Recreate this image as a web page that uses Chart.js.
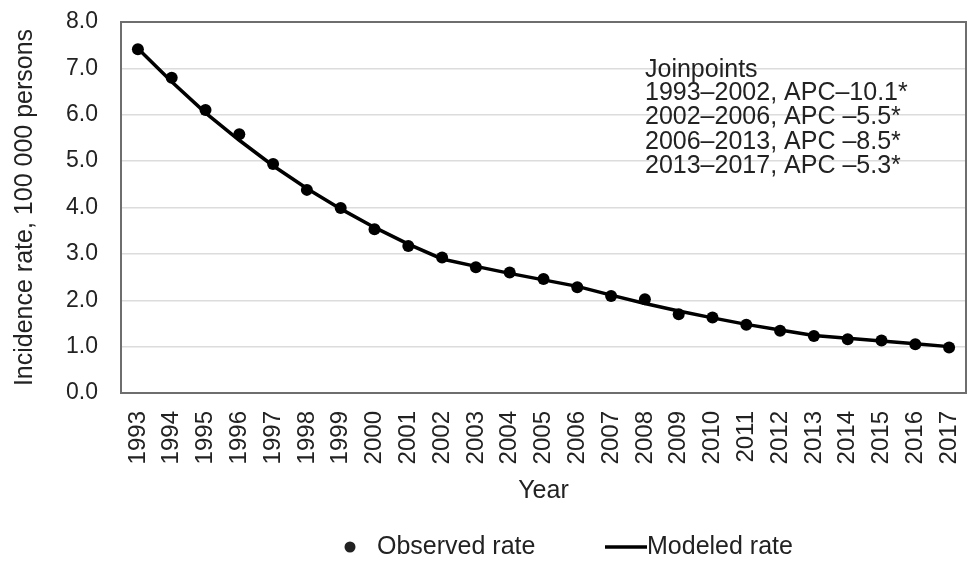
<!DOCTYPE html>
<html>
<head>
<meta charset="utf-8">
<script src="https://cdn.jsdelivr.net/npm/chart.js@4.4.0/dist/chart.umd.min.js"></script>
<style>
  html, body { margin: 0; padding: 0; overflow: hidden; background: #fff; }
  #wrap { position: relative; width: 972px; height: 561px; }
  #chart { display: block; }
</style>
</head>
<body>
<div id="wrap"><canvas id="chart" width="972" height="561"></canvas></div>
<script>
// data
const years = ['1993','1994','1995','1996','1997','1998','1999','2000','2001','2002','2003','2004',
  '2005','2006','2007','2008','2009','2010','2011','2012','2013','2014','2015','2016','2017'];
const observedRate = [7.41, 6.80, 6.10, 5.58, 4.94, 4.38, 3.99, 3.53, 3.17, 2.92, 2.71, 2.60,
  2.46, 2.28, 2.09, 2.02, 1.70, 1.63, 1.47, 1.34, 1.23, 1.16, 1.13, 1.05, 0.98];
const modeledRate = [7.43, 6.71, 6.04, 5.45, 4.90, 4.41, 3.97, 3.57, 3.21, 2.89, 2.73, 2.58,
  2.44, 2.30, 2.11, 1.93, 1.77, 1.62, 1.48, 1.36, 1.24, 1.18, 1.12, 1.06, 1.00];
const joinpointLines = ['Joinpoints', '1993\u20132002, APC\u201310.1*', '2002\u20132006, APC \u20135.5*',
  '2006\u20132013, APC \u20138.5*', '2013\u20132017, APC \u20135.3*'];
const yTicks = [0, 1, 2, 3, 4, 5, 6, 7, 8];

const FONT = '"Liberation Sans", Arial, sans-serif';
const TEXT = '#222';

// frame, joinpoint note and legend
const extras = {
  id: 'extras',
  beforeDatasetsDraw(chart) {
    const { ctx, chartArea: a } = chart;
    ctx.save();
    ctx.strokeStyle = '#6e6e6e';
    ctx.lineWidth = 2;
    ctx.strokeRect(a.left, a.top, a.right - a.left, a.bottom - a.top);
    ctx.restore();
  },
  afterDraw(chart) {
    const { ctx } = chart;
    ctx.save();
    ctx.fillStyle = TEXT;
    ctx.font = '25px ' + FONT;
    ctx.textBaseline = 'alphabetic';
    const base = [77, 100, 124, 149, 173];
    joinpointLines.forEach((t, i) => ctx.fillText(t, 645, base[i]));

    // legend
    const ly = 547;
    ctx.textBaseline = 'middle';
    ctx.beginPath();
    ctx.arc(350, ly, 5.5, 0, Math.PI * 2);
    ctx.fill();
    ctx.fillText('Observed rate', 377, ly);
    ctx.strokeStyle = '#000';
    ctx.lineWidth = 3.5;
    ctx.beginPath();
    ctx.moveTo(605, ly);
    ctx.lineTo(647, ly);
    ctx.stroke();
    ctx.fillText('Modeled rate', 647, ly);
    ctx.restore();
  }
};

new Chart(document.getElementById('chart'), {
  type: 'line',
  data: {
    labels: years,
    datasets: [
      {
        label: 'Observed rate',
        data: observedRate,
        showLine: false,
        pointRadius: 6,
        pointHoverRadius: 6,
        pointBackgroundColor: '#000',
        pointBorderColor: '#000',
        pointBorderWidth: 0
      },
      {
        label: 'Modeled rate',
        data: modeledRate,
        borderColor: '#000',
        borderWidth: 3.5,
        pointRadius: 0,
        tension: 0,
        fill: false
      }
    ]
  },
  options: {
    responsive: false,
    animation: false,
    layout: { padding: { top: 22, right: -5, left: 0, bottom: 0 } },
    plugins: {
      legend: { display: false },
      tooltip: { enabled: false }
    },
    scales: {
      x: {
        offset: true,
        grid: { display: false, drawTicks: false },
        border: { display: false },
        ticks: {
          autoSkip: false,
          minRotation: 90,
          maxRotation: 90,
          padding: 18,
          color: TEXT,
          font: { family: FONT, size: 24 }
        },
        title: {
          display: true,
          text: 'Year',
          color: TEXT,
          font: { family: FONT, size: 25 },
          padding: { top: 0, bottom: 55 }
        },
        afterFit(scale) {
          scale.height = 168;
          scale.paddingLeft = 0;
          scale.paddingRight = 0;
        }
      },
      y: {
        min: 0,
        max: 8,
        afterBuildTicks(scale) { scale.ticks = yTicks.map(v => ({ value: v })); },
        grid: { color: '#dcdcdc', lineWidth: 1.5, drawTicks: false },
        border: { display: false },
        ticks: {
          padding: 23,
          color: TEXT,
          font: { family: FONT, size: 23 },
          callback: v => v.toFixed(1)
        },
        title: {
          display: true,
          text: 'Incidence rate, 100 000 persons',
          color: TEXT,
          font: { family: FONT, size: 25 },
          padding: { top: 10, bottom: 0 }
        },
        afterFit(scale) {
          scale.width = 121;
          scale.paddingTop = 0;
          scale.paddingBottom = 0;
        }
      }
    }
  },
  plugins: [extras]
});
</script>
</body>
</html>
